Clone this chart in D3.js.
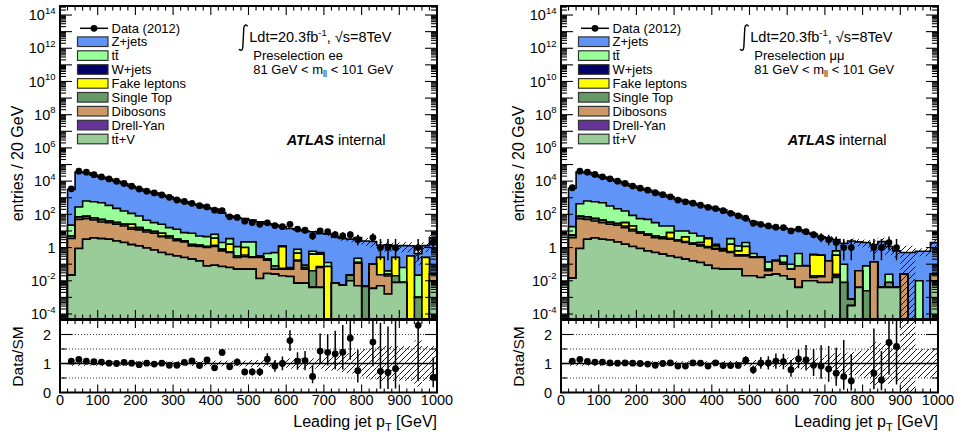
<!DOCTYPE html>
<html><head><meta charset="utf-8">
<script src="https://cdn.jsdelivr.net/npm/d3@7"></script>
<style>body{margin:0;background:#fff} svg{display:block} text{font-family:"Liberation Sans",Arial,Helvetica,sans-serif;fill:#000}</style>
</head><body><svg id="c" width="957" height="432"></svg>
<script>
// ---------- DATA ----------
const binEdges = [20,40,60,80,100,120,140,160,180,200,220,240,260,280,300,320,340,360,380,400,420,440,460,480,500,520,540,560,580,600,620,640,660,680,700,720,740,760,780,800,820,840,860,880,900,920,940,960,980,1000];
const xTickLabels = ["0","100","200","300","400","500","600","700","800","900","1000"];
const yMainTickExps = [-4,-2,0,2,4,6,8,10,12,14];
const ratioTickLabels = ["0","1","2"];

// ee channel
const eeData   = [3456,39900,34560,24380,17850,13635,9800,7176,4949,3360,2474,1960,1464,1053,733,593,458,335,280,179,166,71,65,39,32,25,31,21,18,25,13,11,5,10,9,6,5,6,3,0,4,1,1,1,0,0,1,0,2];
const eeZjets  = [3178,34725,31369,22425,16500,13153,9571,6742,4785,3421,2406,1968,1425,1104,767,562,413,355,245,204,118,76.5,60.8,52.8,42.8,34.7,26.6,22.5,16.7,13.9,11.2,9.9,8.4,6.5,6.37,4.49,3.59,3.18,3.77,2.5,2.2,1.12,1.41,0.97,1.24,0.98,0.41,1.05,3.82];
const eeTtbar  = [17.4,206,555,515,453,307,197,133,90,63.6,32.7,22.5,17.9,11,9.44,5.43,5.73,3.63,3.42,2.68,1.21,1.89,0.83,1.19,1.91,0.036,0.237,0.42,0.11,0.007,0.333,0.024,0.2,0.1,0.054,0,0,0,0.103,0,0,0,0.015,0,0.055,0,0.021,0,0];
const eeWjets  = [0,0,0,0,0,0,0,0,0,0,0,0,0,0,0,0,0,0,0,0,0,0,0,0,0,0,0,0,0,0,0,0,0,0,0,0,0,0,0,0,0,0,0,0,0,0,0,0,0];
const eeFake   = [0,0,0,0,0,0,0,0,9.3,2.6,0,0,2.23,0,0,0,0,0,0,2.25,0,1.03,0,0.645,0,0,0,0,1.09,0,0.283,0,0.36,0.33,0.072,0,0,0,0,0,0,0.227,0,0.23,0,0.316,0,0.25,0];
const eeSTop   = [1.46,19.1,20.9,14.6,13.2,8.2,6.5,5.1,3.2,1.7,2.3,1.88,0.44,0.99,0.53,0.32,0.25,0.23,0.15,0.23,0.16,0.05,0.066,0.075,0.03,0.03,0.026,0.029,0.006,0.006,0.016,0.013,0.036,0.008,0,0,0,0.012,0.011,0.0046,0,0,0.005,0.012,0,0,0.001,0,0];
const eeDibo   = [3.53,49.2,51.8,41.9,31.2,28.4,22.6,18,11.1,10.2,7.76,6.52,4.07,3.42,2.31,1.94,1.06,0.99,0.92,1.06,0.56,0.44,0.2,0.23,0.2,0.236,0.147,0.025,0.03,0.032,0.151,0.043,0,0.059,0,0,0,0,0.11,0,0.0965,0.018,0.018,0,0,0,0,0,0.015];
const eeDY     = [0,0,0,0,0,0,0,0,0,0,0,0,0,0,0,0,0,0,0,0,0,0,0,0,0,0,0,0,0,0,0,0,0,0,0,0,0,0,0,0,0,0,0,0,0,0,0,0,0];
const eeTtV    = [0.022,0.87,3.16,3.8,3.47,3.16,2.51,2.0,1.51,1.26,0.95,0.72,0.5,0.38,0.316,0.25,0.2,0.158,0.079,0.087,0.072,0.063,0.05,0.05,0.05,0.0138,0.0275,0.025,0.02,0.0182,0.0072,0.0072,0.004,0.004,0,0.0072,0.0055,0.01,0.005,0,0.0035,0.005,0.0016,0.0079,0.0079,0,0,0,0.01];
const eeMcRelErr = [0.08,0.08,0.08,0.08,0.08,0.08,0.08,0.08,0.08,0.08,0.08,0.08,0.08,0.08,0.09,0.09,0.09,0.09,0.09,0.1,0.1,0.1,0.1,0.1,0.12,0.12,0.12,0.12,0.12,0.18,0.18,0.18,0.18,0.18,0.25,0.25,0.3,0.35,0.4,0.5,0.55,0.6,0.6,0.6,0.6,0.6,0.8,0.6,0.6];

// mumu channel
const mmData   = [3996,39900,34668,25200,18165,13770,9999,7242,5050,3750,2842,1993,1520,1142,728,564,469,354,264,224,167,116,82,58,29,25,20,17,16,10,13,9,6,4,3,2,1,1,0,0,1,1,2,1,0,0,0,0,0];
const mmZjets  = [3682,34563,31769,23425,16799,13184,9681,6942,4913,3695,2850,2088,1500,1100,790,610,452.8,345,286.2,218.4,179.1,121.5,86.7,50,36.6,24.2,19.46,15.53,14.68,12.6,10.76,7.92,6.0,4.05,3.54,2.37,1.72,2.5,2.16,1.92,1.36,2.3,1.135,0.626,0.475,0.5,0.59,0.6,1.97];
const mmTtbar  = [12.6,361,562,520,457,283,191.5,126.4,67.1,46.3,43.8,26.6,15.8,12.06,7.12,5.63,5.42,3.01,0.33,0.32,0.15,1.89,0.63,0.85,0.157,0,0.088,0,0.19,0.05,0.358,0.004,0.037,0,0,0.283,0.092,0,0,0.077,0,0,0.017,0,0,0,0.01,0,0];
const mmWjets  = [0,0,0,0,0,0,0,0,0,0,0,0,0,0,0,0,0,0,0,0,0,0,0,0,0,0,0,0,0,0,0,0,0,0,0,0,0,0,0,0,0,0,0,0,0,0,0,0,0];
const mmFake   = [0,0,0,0,0,0,0,11.6,7.4,0,0,0,0,4.31,0,2.08,0,0.55,2.32,0.35,0,1.0,0.27,0.79,0,0,0,0,0,0,0,0,0.343,0.327,0,0.322,0,0,0,0,0,0,0,0,0,0,0,0,0];
const mmSTop   = [1.64,20.9,19.1,15.2,12.1,8,5.6,4.2,2.6,1.47,0.81,1.03,0.7,0.47,0.37,0.29,0.24,0.19,0.15,0.12,0.09,0.075,0.047,0.047,0.03,0.03,0.01,0.008,0.026,0,0,0,0.004,0.002,0,0.005,0.0079,0.00047,0,0.0025,0,0,0.0039,0,0,0,0,0,0];
const mmDibo   = [3.97,54.1,46.9,36,28.4,22.2,19.7,14.2,8.85,6.37,4.87,3.48,3.07,2.84,2.26,1.8,1.42,1.13,0.91,0.735,0.58,0.45,0.266,0.296,0.23,0.234,0.018,0.133,0.08,0.037,0.075,0.069,0.0058,0.01,0.15,0.004,0,0,0.036,0,0.138,0,0,0,0.025,0,0,0,0.015];
const mmDY     = [0,0,0,0,0,0,0,0,0,0,0,0,0,0,0,0,0,0,0,0,0,0,0,0,0,0,0,0,0,0,0,0,0,0,0,0,0,0,0,0,0,0,0,0,0,0,0,0,0];
const mmTtV    = [0.0145,0.87,3.16,3.8,3.16,2.88,2.19,1.58,1.15,0.87,0.63,0.5,0.4,0.316,0.25,0.2,0.158,0.126,0.087,0.055,0.05,0.05,0.05,0.02,0.02,0.0158,0.0219,0.025,0.02,0.0126,0.004,0.01,0.01,0.0079,0.0079,0.0158,0,0.00032,0.004,0,0,0.004,0.004,0.004,0,0,0,0,0.01];
const mmMcRelErr = [0.08,0.08,0.08,0.08,0.08,0.08,0.08,0.08,0.08,0.08,0.08,0.08,0.08,0.08,0.08,0.08,0.08,0.08,0.08,0.09,0.09,0.09,0.09,0.09,0.12,0.12,0.12,0.12,0.12,0.2,0.2,0.2,0.2,0.2,0.3,0.35,0.35,0.4,0.45,0.5,0.75,0.7,0.7,0.6,1.6,1.6,0.5,0.5,0.5];

// Garwood 68% Poisson intervals for small counts
const poissonLo = [0,0.173,0.708,1.367,2.086,2.840,3.620,4.419,5.232,6.057,6.891];
const poissonHi = [1.841,3.300,4.638,5.918,7.163,8.382,9.584,10.77,11.95,13.11,14.27];

// ---------- STYLE ----------
const samples = [ // stacking order bottom -> top
  {label:"t\u0074\u0304+V",   color:"#99cc99"},
  {label:"Drell-Yan",         color:"#663399"},
  {label:"Dibosons",          color:"#cc9966"},
  {label:"Single Top",        color:"#669966"},
  {label:"Fake leptons",      color:"#ffff00"},
  {label:"W+jets",            color:"#000066"},
  {label:"t\u0074\u0304",     color:"#99ff99"},
  {label:"Z+jets",            color:"#6194f7"}
];
const panels = [
  {ox:0,   chan:"ee",      data:eeData, comps:[eeTtV,eeDY,eeDibo,eeSTop,eeFake,eeWjets,eeTtbar,eeZjets], err:eeMcRelErr},
  {ox:501, chan:"\u03bc\u03bc", data:mmData, comps:[mmTtV,mmDY,mmDibo,mmSTop,mmFake,mmWjets,mmTtbar,mmZjets], err:mmMcRelErr}
];

const svg = d3.select("#c");
const defs = svg.append("defs");
defs.append("pattern").attr("id","hatch").attr("patternUnits","userSpaceOnUse")
  .attr("width",6).attr("height",6)
  .append("path").attr("d","M0,6 L6,0 M-1.5,1.5 L1.5,-1.5 M4.5,7.5 L7.5,4.5")
  .attr("stroke","#000").attr("stroke-width",0.9);

const YMIN = 5e-5, YMAX = 3.5e14;

function poisson(n){
  if(n<=10) return [poissonLo[n], poissonHi[n]];
  return [n-Math.sqrt(n), n+Math.sqrt(n)];
}

panels.forEach((P,pi)=>{
  const ox = P.ox;
  const X0 = ox+60, X1 = ox+437, YT = 6, YB = 319, RT = 320, RB = 392.5;
  const x = d3.scaleLinear().domain([0,1000]).range([X0,X1]);
  const y = d3.scaleLog().domain([YMIN,YMAX]).range([YB,YT]);
  const yr = d3.scaleLinear().domain([0,2.5]).range([RB,RT]);
  const g = svg.append("g");
  const nb = binEdges.length-1;

  defs.append("clipPath").attr("id","cm"+pi).append("rect").attr("x",X0).attr("y",YT).attr("width",X1-X0).attr("height",YB-YT);
  defs.append("clipPath").attr("id","cr"+pi).append("rect").attr("x",X0).attr("y",RT).attr("width",X1-X0).attr("height",RB-RT);

  // cumulative stack
  const cum = [];
  P.comps.forEach((arr,k)=>{
    cum.push(arr.map((v,i)=> v + (k>0? cum[k-1][i] : 0)));
  });
  const total = cum[cum.length-1];

  const gm = g.append("g").attr("clip-path",`url(#cm${pi})`);
  const yy = v => v>YMIN ? y(v) : YB+2;
  for(let k=cum.length-1;k>=0;k--){
    const vals = cum[k];
    let d = `M${x(binEdges[0])},${YB+2}`;
    vals.forEach((v,i)=>{ d += `L${x(binEdges[i])},${yy(v)}L${x(binEdges[i+1])},${yy(v)}`; });
    d += `L${x(binEdges[nb])},${YB+2}Z`;
    gm.append("path").attr("d",d).attr("fill",samples[k].color)
      .attr("stroke","#000").attr("stroke-width",1.6).attr("stroke-linejoin","miter");
  }
  // MC uncertainty band in main plot
  total.forEach((t,i)=>{
    if(t<=0) return;
    const hi = t*(1+P.err[i]), lo = Math.max(t*(1-P.err[i]), YMIN);
    gm.append("rect").attr("x",x(binEdges[i])).attr("width",x(binEdges[i+1])-x(binEdges[i]))
      .attr("y",y(hi)).attr("height",Math.max(0,y(lo)-y(hi))).attr("fill","url(#hatch)");
  });
  // data points
  P.data.forEach((n,i)=>{
    if(n<=0) return;
    const cx = x((binEdges[i]+binEdges[i+1])/2);
    const [lo,hi] = poisson(n);
    gm.append("line").attr("x1",cx).attr("x2",cx).attr("y1",yy(lo)).attr("y2",y(hi))
      .attr("stroke","#000").attr("stroke-width",1.5);
    gm.append("circle").attr("cx",cx).attr("cy",y(n)).attr("r",3.4).attr("fill","#000");
  });

  // ratio panel
  const gr = g.append("g").attr("clip-path",`url(#cr${pi})`);
  [0.5,1.5,2].forEach(v=> gr.append("line").attr("x1",X0).attr("x2",X1).attr("y1",yr(v)).attr("y2",yr(v))
      .attr("stroke","#000").attr("stroke-width",0.8).attr("stroke-dasharray","1,2"));
  total.forEach((t,i)=>{
    if(t<=0) return;
    const hi = 1+P.err[i], lo = Math.max(0,1-P.err[i]);
    gr.append("rect").attr("x",x(binEdges[i])).attr("width",x(binEdges[i+1])-x(binEdges[i]))
      .attr("y",yr(hi)).attr("height",yr(lo)-yr(hi)).attr("fill","url(#hatch)");
  });
  gr.append("line").attr("x1",X0).attr("x2",X1).attr("y1",yr(1)).attr("y2",yr(1)).attr("stroke","#000").attr("stroke-width",1.5);
  P.data.forEach((n,i)=>{
    if(n<=0 || total[i]<=0) return;
    const t = total[i], r = n/t;
    const cx = x((binEdges[i]+binEdges[i+1])/2);
    const [lo,hi] = poisson(n);
    gr.append("line").attr("x1",cx).attr("x2",cx).attr("y1",yr(lo/t)).attr("y2",yr(Math.min(hi/t,3)))
      .attr("stroke","#000").attr("stroke-width",1.5);
    gr.append("circle").attr("cx",cx).attr("cy",yr(r)).attr("r",3.4).attr("fill","#000");
  });

  // frames
  g.append("rect").attr("x",X0).attr("y",YT).attr("width",X1-X0).attr("height",YB-YT).attr("fill","none").attr("stroke","#000").attr("stroke-width",2);
  g.append("rect").attr("x",X0).attr("y",RT).attr("width",X1-X0).attr("height",RB-RT).attr("fill","none").attr("stroke","#000").attr("stroke-width",2);

  // ticks
  const tk = g.append("g").attr("stroke","#000").attr("stroke-width",1.1);
  for(let v=0; v<=1000; v+=20){
    const major = v%100===0, xv = x(v);
    const Lm = major?9:4.5, Lr = major?8:4;
    tk.append("line").attr("x1",xv).attr("x2",xv).attr("y1",YB).attr("y2",YB-Lm);
    tk.append("line").attr("x1",xv).attr("x2",xv).attr("y1",YT).attr("y2",YT+Lm);
    tk.append("line").attr("x1",xv).attr("x2",xv).attr("y1",RB).attr("y2",RB-Lr);
    tk.append("line").attr("x1",xv).attr("x2",xv).attr("y1",RT).attr("y2",RT+Lr);
  }
  for(let e=-5; e<=14; e++){
    for(let m=1; m<=9; m++){
      const v = m*Math.pow(10,e);
      if(v<YMIN || v>YMAX) continue;
      const L = m===1?12:6, yv = y(v);
      tk.append("line").attr("x1",X0).attr("x2",X0+L).attr("y1",yv).attr("y2",yv);
      tk.append("line").attr("x1",X1).attr("x2",X1-L).attr("y1",yv).attr("y2",yv);
    }
  }
  for(let v=0; v<=2.5; v+=0.5){
    const L = (v%1===0)?12:6, yv = yr(v);
    tk.append("line").attr("x1",X0).attr("x2",X0+L).attr("y1",yv).attr("y2",yv);
    tk.append("line").attr("x1",X1).attr("x2",X1-L).attr("y1",yv).attr("y2",yv);
  }

  // tick labels
  yMainTickExps.forEach(e=>{
    const t = g.append("text").attr("x",ox+55.5).attr("y",y(Math.pow(10,e))+5.2)
      .attr("text-anchor","end").attr("font-size",14.5);
    if(e===0) t.text("1");
    else { t.append("tspan").text("10"); t.append("tspan").attr("font-size",9.5).attr("dy",-6.5).text(e); }
  });
  ratioTickLabels.forEach(s=>{
    g.append("text").attr("x",ox+51).attr("y",yr(+s)+5.2).attr("text-anchor","end").attr("font-size",14.5).text(s);
  });
  xTickLabels.forEach(s=>{
    g.append("text").attr("x",x(+s)).attr("y",404.5).attr("text-anchor","middle").attr("font-size",14.5).text(s);
  });

  // axis titles
  g.append("text").attr("transform",`translate(${ox+23},163.5) rotate(-90)`).attr("text-anchor","middle")
    .attr("font-size",16).text("entries / 20 GeV");
  g.append("text").attr("transform",`translate(${ox+23},356.5) rotate(-90)`).attr("text-anchor","middle")
    .attr("font-size",15.5).text("Data/SM");
  const xt = g.append("text").attr("x",X1).attr("y",427).attr("text-anchor","end").attr("font-size",16);
  xt.append("tspan").text("Leading jet p");
  xt.append("tspan").attr("font-size",11).attr("dy",4).text("T");
  xt.append("tspan").attr("dy",-4).text(" [GeV]");

  // legend
  const lg = g.append("g");
  lg.append("line").attr("x1",ox+80).attr("x2",ox+108).attr("y1",28.3).attr("y2",28.3).attr("stroke","#000").attr("stroke-width",1.5);
  lg.append("circle").attr("cx",ox+94).attr("cy",28.3).attr("r",3.4).attr("fill","#000");
  lg.append("text").attr("x",ox+111.5).attr("y",28.3+4.7).attr("font-size",13).text("Data (2012)");
  samples.slice().reverse().forEach((s,j)=>{
    const cy = 41.7 + 13.9*j;
    lg.append("rect").attr("x",ox+77.5).attr("y",cy-4.8).attr("width",30.5).attr("height",9.6)
      .attr("fill",s.color).attr("stroke","#333").attr("stroke-width",1.2);
    lg.append("text").attr("x",ox+111.5).attr("y",cy+4.7).attr("font-size",13).text(s.label);
  });

  // info text
  g.append("path").attr("d",`M${ox+247.5},26.5 C${ox+246.6},24 ${ox+244.2},24.4 ${ox+243.8},28 L${ox+242.8},47.5 C${ox+242.5},50.6 ${ox+240.2},51.2 ${ox+239},49`)
    .attr("fill","none").attr("stroke","#000").attr("stroke-width",1.4);
  const lt = g.append("text").attr("x",ox+249.3).attr("y",41.7).attr("font-size",14.5);
  lt.append("tspan").text("Ldt=20.3fb");
  lt.append("tspan").attr("font-size",9.5).attr("dy",-6).text("-1");
  lt.append("tspan").attr("dy",6).text(", \u221As=8TeV");
  g.append("text").attr("x",ox+253.3).attr("y",60).attr("font-size",13).text("Preselection "+P.chan);
  const mt = g.append("text").attr("x",ox+253.3).attr("y",74).attr("font-size",13);
  mt.append("tspan").text("81 GeV < m");
  mt.append("tspan").attr("font-size",9).attr("dy",3).text("ll");
  mt.append("tspan").attr("dy",-3).text(" < 101 GeV");
  const at = g.append("text").attr("x",ox+286.7).attr("y",145).attr("font-size",14.5);
  at.append("tspan").attr("font-weight","bold").attr("font-style","italic").text("ATLAS");
  at.append("tspan").text(" internal");
});
</script></body></html>
